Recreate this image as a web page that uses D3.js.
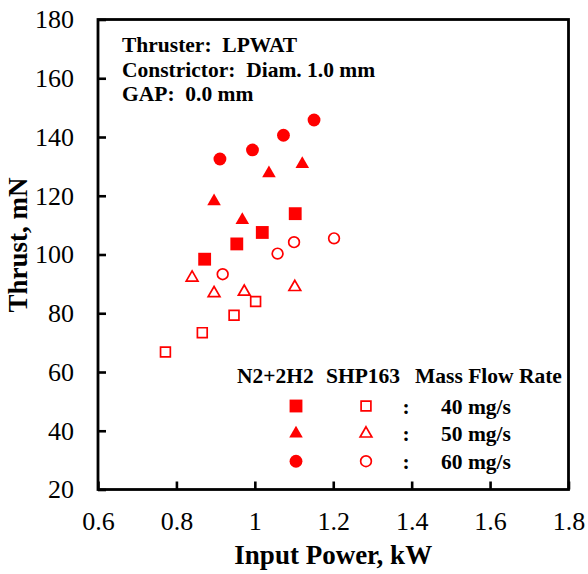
<!DOCTYPE html>
<html>
<head>
<meta charset="utf-8">
<script src="https://cdn.jsdelivr.net/npm/d3@7"></script>
<style>
  body { margin: 0; background: #fff; }
  svg { display: block; font-family: "Liberation Serif", "Times New Roman", serif; }
</style>
</head>
<body>
<svg id="chart" width="588" height="574"></svg>
<script>
// Data (input power in kW, thrust in mN)
const flowRates = ["40 mg/s", "50 mg/s", "60 mg/s"];
const shapes = [d3.symbolSquare, d3.symbolTriangle, d3.symbolCircle];

// N2+2H2 (filled markers)
const n2h2Power40 = [0.872, 0.954, 1.019, 1.103];
const n2h2Thrust40 = [98.4, 103.6, 107.5, 113.9];
const n2h2Power50 = [0.896, 0.968, 1.036, 1.121];
const n2h2Thrust50 = [118.1, 111.7, 127.6, 130.8];
const n2h2Power60 = [0.911, 0.994, 1.073, 1.151];
const n2h2Thrust60 = [132.5, 135.6, 140.6, 145.8];

// SHP163 (open markers)
const shpPower40 = [0.772, 0.866, 0.947, 1.002];
const shpThrust40 = [66.8, 73.4, 79.3, 84.0];
const shpPower50 = [0.840, 0.896, 0.973, 1.102];
const shpThrust50 = [92.1, 86.8, 87.3, 88.9];
const shpPower60 = [0.918, 1.058, 1.100, 1.202];
const shpThrust60 = [93.3, 100.3, 104.2, 105.5];

const xTicks = [0.6, 0.8, 1.0, 1.2, 1.4, 1.6, 1.8];
const yTicks = [20, 40, 60, 80, 100, 120, 140, 160, 180];

const notes = ["Thruster:  LPWAT", "Constrictor:  Diam. 1.0 mm", "GAP:  0.0 mm"];

const svg = d3.select("#chart");
const red = "#ff0000";

const plotLeft = 98, plotRight = 568.5, plotTop = 19.5, plotBottom = 489.5;

const x = d3.scaleLinear().domain([0.6, 1.8]).range([plotLeft, plotRight]);
const y = d3.scaleLinear().domain([20, 180]).range([plotBottom, plotTop]);

// Build the series list from the arrays
const series = [
    { filled: true, rate: 0, power: n2h2Power40, thrust: n2h2Thrust40 },
    { filled: true, rate: 1, power: n2h2Power50, thrust: n2h2Thrust50 },
    { filled: true, rate: 2, power: n2h2Power60, thrust: n2h2Thrust60 },
    { filled: false, rate: 0, power: shpPower40, thrust: shpThrust40 },
    { filled: false, rate: 1, power: shpPower50, thrust: shpThrust50 },
    { filled: false, rate: 2, power: shpPower60, thrust: shpThrust60 }
];

// symbol sizes (area) for filled and open markers
const filledSize = [165, 80, 130];
const openSize = [96, 60, 90];

function symbolPath(rate, filled) {
    return d3.symbol().type(shapes[rate]).size(filled ? filledSize[rate] : openSize[rate])();
}

// Axes
const xAxis = d3.axisBottom(x)
    .tickValues(xTicks)
    .tickFormat(d => d3.format("~g")(d))
    .tickSizeInner(-8).tickSizeOuter(0).tickPadding(22);

const yAxis = d3.axisLeft(y)
    .tickValues(yTicks)
    .tickSizeInner(-8).tickSizeOuter(0).tickPadding(24);

const gx = svg.append("g")
    .attr("transform", "translate(0," + plotBottom + ")")
    .call(xAxis);
const gy = svg.append("g")
    .attr("transform", "translate(" + plotLeft + ",0)")
    .call(yAxis);

[gx, gy].forEach(g => {
    g.select(".domain").remove();
    g.selectAll(".tick line").attr("stroke", "#000").attr("stroke-width", 2.6);
    g.selectAll(".tick text")
        .attr("fill", "#000")
        .style("font-family", "'Liberation Serif', serif")
        .style("font-size", "26px");
});

// Frame
svg.append("rect")
    .attr("x", plotLeft).attr("y", plotTop)
    .attr("width", plotRight - plotLeft).attr("height", plotBottom - plotTop)
    .attr("fill", "none")
    .attr("stroke", "#000")
    .attr("stroke-width", 2.8);

// Axis titles
svg.append("text")
    .attr("x", (plotLeft + plotRight) / 2)
    .attr("y", 564)
    .attr("text-anchor", "middle")
    .attr("font-weight", "bold")
    .attr("font-size", 27)
    .text("Input Power, kW");

svg.append("text")
    .attr("transform", "translate(27,245) rotate(-90)")
    .attr("text-anchor", "middle")
    .attr("font-weight", "bold")
    .attr("font-size", 27)
    .text("Thrust, mN");

// Annotation
svg.append("g").selectAll("text")
    .data(notes)
    .enter().append("text")
    .attr("x", 122)
    .attr("y", (d, i) => 52 + i * 24.5)
    .attr("font-weight", "bold")
    .attr("font-size", 21.5)
    .style("white-space", "pre")
    .text(d => d);

// Points
series.forEach(s => {
    svg.append("g").selectAll("path")
        .data(s.power.map((p, i) => [p, s.thrust[i]]))
        .enter().append("path")
        .attr("d", symbolPath(s.rate, s.filled))
        .attr("transform", d => "translate(" + x(d[0]) + "," + y(d[1]) + ")")
        .attr("fill", s.filled ? red : "#fff")
        .attr("stroke", s.filled ? "none" : red)
        .attr("stroke-width", 1.7);
});

// Legend
const legend = svg.append("g").attr("font-weight", "bold").attr("font-size", 21.5);
legend.append("text").attr("x", 237).attr("y", 383).text("N2+2H2");
legend.append("text").attr("x", 326).attr("y", 383).text("SHP163");
legend.append("text").attr("x", 415).attr("y", 383).text("Mass Flow Rate");

flowRates.forEach((rate, i) => {
    const cy = 406 + i * 27.6;
    legend.append("path")
        .attr("d", symbolPath(i, true))
        .attr("transform", "translate(296," + cy + ")")
        .attr("fill", red);
    legend.append("path")
        .attr("d", symbolPath(i, false))
        .attr("transform", "translate(366," + cy + ")")
        .attr("fill", "#fff")
        .attr("stroke", red)
        .attr("stroke-width", 1.7);
    legend.append("text")
        .attr("x", 406).attr("y", cy + 7.5)
        .attr("text-anchor", "middle")
        .text(":");
    legend.append("text")
        .attr("x", 441).attr("y", cy + 7.5)
        .text(rate);
});
</script>
</body>
</html>
